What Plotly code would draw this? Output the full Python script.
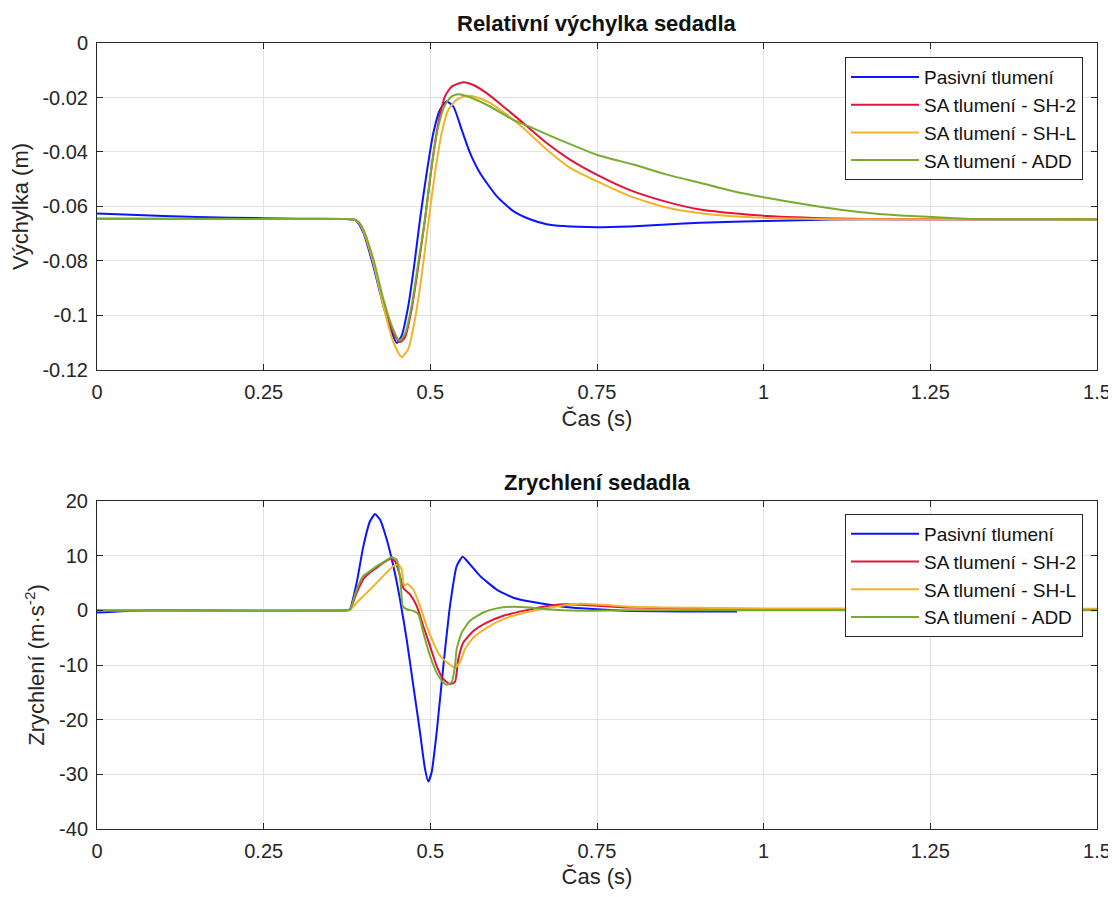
import plotly.graph_objects as go

# ---------------- data: top plot (Relativní výchylka sedadla) ----------------
t_pas_d = [0, 0.1, 0.2, 0.3, 0.37, 0.385, 0.39, 0.3995, 0.4145, 0.4295, 0.442, 0.4495, 0.457, 0.467,
           0.477, 0.4845, 0.4945, 0.5045, 0.5145, 0.5245, 0.5345, 0.547, 0.5595, 0.5745, 0.5995,
           0.6245, 0.6495, 0.6745, 0.6995, 0.7495, 0.7995, 0.8545, 0.9045, 1.0045, 1.1, 1.2, 1.5]
y_pas_d = [-0.0626, -0.0635, -0.0641, -0.0645, -0.0646, -0.0648, -0.0655, -0.0696, -0.0818, -0.0964,
           -0.1062, -0.1101, -0.1074, -0.0964, -0.0793, -0.0647, -0.0477, -0.0330, -0.0245, -0.0215,
           -0.0233, -0.0318, -0.0403, -0.0477, -0.0562, -0.0617, -0.0647, -0.0665, -0.0672, -0.0676,
           -0.0673, -0.0666, -0.0660, -0.0653, -0.0648, -0.0647, -0.0647]

t_sh2_d = [0, 0.37, 0.385, 0.392, 0.3995, 0.4145, 0.4295, 0.4445, 0.4545, 0.462, 0.472, 0.482, 0.492,
           0.502, 0.512, 0.522, 0.532, 0.5495, 0.5645, 0.5845, 0.6095, 0.6395, 0.6745, 0.7095, 0.7495,
           0.7995, 0.8545, 0.9045, 0.9545, 1.0045, 1.1045, 1.2045, 1.5]
y_sh2_d = [-0.0645, -0.0646, -0.0648, -0.0658, -0.069, -0.0806, -0.0952, -0.1062, -0.1098, -0.108,
           -0.0976, -0.0818, -0.0647, -0.0452, -0.0294, -0.0196, -0.0160, -0.0144, -0.0154, -0.0184,
           -0.0233, -0.0294, -0.0367, -0.0428, -0.0483, -0.0540, -0.0583, -0.0611, -0.0625, -0.0635,
           -0.0644, -0.0647, -0.0647]

t_shl_d = [0, 0.37, 0.385, 0.392, 0.3995, 0.4145, 0.4295, 0.4445, 0.457, 0.467, 0.477, 0.487, 0.497,
           0.507, 0.517, 0.527, 0.5395, 0.5545, 0.5695, 0.5895, 0.6145, 0.6395, 0.6745, 0.7095, 0.7495,
           0.7995, 0.8545, 0.9045, 0.9545, 1.0045, 1.1045, 1.5]
y_shl_d = [-0.0645, -0.0646, -0.0648, -0.0658, -0.069, -0.0806, -0.0964, -0.1098, -0.1153, -0.1122,
           -0.1013, -0.0854, -0.0659, -0.0477, -0.0330, -0.0245, -0.0208, -0.0194, -0.0199, -0.0220,
           -0.0263, -0.0312, -0.0391, -0.0458, -0.0507, -0.0562, -0.0604, -0.0625, -0.0636, -0.0642,
           -0.0647, -0.0647]

t_add_d = [0, 0.37, 0.385, 0.392, 0.3995, 0.4145, 0.4295, 0.442, 0.4535, 0.462, 0.472, 0.482, 0.492,
           0.502, 0.512, 0.522, 0.532, 0.542, 0.5595, 0.5895, 0.6245, 0.6495, 0.6995, 0.7495, 0.8045,
           0.8545, 0.9045, 0.9545, 1.0045, 1.0545, 1.1045, 1.1545, 1.2045, 1.2545, 1.3045, 1.3545, 1.5]
y_add_d = [-0.0645, -0.0646, -0.0648, -0.0656, -0.0684, -0.0793, -0.0940, -0.1037, -0.1092, -0.1068,
           -0.0964, -0.0806, -0.0647, -0.0452, -0.0306, -0.0227, -0.0196, -0.0188, -0.0199, -0.0233,
           -0.0282, -0.0308, -0.0361, -0.0410, -0.0446, -0.0483, -0.0513, -0.0544, -0.0568, -0.0589,
           -0.0608, -0.0623, -0.0633, -0.0639, -0.0645, -0.0647, -0.0648]

# ---------------- data: bottom plot (Zrychlení sedadla) ----------------
t_pas_a = [0, 0.03, 0.08, 0.375, 0.3795, 0.3895, 0.3995, 0.4095, 0.417, 0.4245, 0.4345, 0.4445, 0.4545,
           0.4645, 0.4745, 0.4845, 0.492, 0.497, 0.502, 0.5095, 0.5195, 0.5295, 0.5395, 0.5485, 0.5595,
           0.5745, 0.5995, 0.6245, 0.6495, 0.6995, 0.7495, 0.7995, 0.88, 0.96]
y_pas_a = [-0.4, -0.2, 0.0, 0.0, 0.2, 5.05, 11.7, 16.3, 17.6, 16.6, 13.0, 8.1, 2.0, -5.3, -13.8, -22.3,
           -29.0, -31.3, -29.6, -22.3, -10.2, 0.8, 8.1, 9.8, 8.4, 6.3, 3.8, 2.3, 1.6, 0.67, 0.2, -0.1,
           -0.2, -0.2]

t_sh2_a = [0, 0.375, 0.3795, 0.3895, 0.3995, 0.4095, 0.4195, 0.4295, 0.4395, 0.447, 0.4545, 0.4595,
           0.4695, 0.4795, 0.4895, 0.4995, 0.5095, 0.5195, 0.5295, 0.537, 0.542, 0.5495, 0.5645, 0.5845,
           0.6095, 0.6395, 0.6695, 0.6995, 0.7245, 0.7745, 0.7995, 0.9, 1.0, 1.25, 1.5]
y_sh2_a = [0, 0, 0.1, 3.2, 5.7, 6.9, 7.8, 8.7, 9.4, 9.0, 6.3, 4.1, 2.9, 0.8, -2.9, -6.5, -10.2, -12.6,
           -13.5, -13.1, -8.9, -5.9, -3.8, -2.25, -1.0, -0.1, 0.67, 1.1, 1.0, 0.67, 0.5, 0.35, 0.25,
           0.15, 0.1]

t_shl_a = [0, 0.375, 0.3795, 0.3895, 0.3995, 0.4145, 0.4295, 0.4445, 0.452, 0.457, 0.4605, 0.466,
           0.4745, 0.4845, 0.4945, 0.5045, 0.5145, 0.5245, 0.537, 0.5445, 0.552, 0.5645, 0.5845,
           0.6095, 0.6395, 0.6695, 0.6995, 0.7245, 0.7745, 0.7995, 0.9, 1.0, 1.25, 1.5]
y_shl_a = [0, 0, 0.1, 1.4, 2.6, 4.4, 6.3, 8.1, 8.4, 7.5, 4.6, 4.8, 3.8, 0.8, -2.9, -5.9, -8.3, -9.5,
           -10.5, -9.5, -7.1, -5.0, -3.2, -1.6, -0.5, 0.3, 0.9, 1.2, 0.9, 0.67, 0.45, 0.35, 0.3, 0.3]

t_add_a = [0, 0.375, 0.3795, 0.3895, 0.3995, 0.4095, 0.4195, 0.4295, 0.442, 0.4495, 0.4555, 0.4585,
           0.4645, 0.4745, 0.482, 0.4895, 0.4995, 0.5095, 0.5195, 0.5245, 0.532, 0.537, 0.5395, 0.547,
           0.5595, 0.5795, 0.5995, 0.6245, 0.6495, 0.6745, 0.7245, 0.8, 1.5]
y_add_a = [0, 0, 0.1, 3.8, 6.3, 7.2, 8.1, 8.8, 9.7, 9.3, 5.0, 0.8, 0.2, -0.1, -0.7, -4.1, -8.3, -11.4,
           -13.2, -13.6, -13.2, -10.2, -7.1, -4.1, -1.9, -0.4, 0.36, 0.67, 0.5, 0.2, -0.06, 0.0, 0.0]

series_names = ["Pasivní tlumení", "SA tlumení - SH-2", "SA tlumení - SH-L", "SA tlumení - ADD"]
series_colors = ["#0a14ff", "#e3143c", "#f0b42a", "#77ac30"]

x_ticks = [0, 0.25, 0.5, 0.75, 1, 1.25, 1.5]
x_ticktext = ["0", "0.25", "0.5", "0.75", "1", "1.25", "1.5"]
y1_ticks = [0, -0.02, -0.04, -0.06, -0.08, -0.1, -0.12]
y1_ticktext = ["0", "-0.02", "-0.04", "-0.06", "-0.08", "-0.1", "-0.12"]
y2_ticks = [20, 10, 0, -10, -20, -30, -40]
y2_ticktext = ["20", "10", "0", "-10", "-20", "-30", "-40"]

FONT = "Liberation Sans, Arial, Helvetica, sans-serif"
AX = "#262626"
GRID = "#e2e2e2"

fig = go.Figure()

top = [(t_pas_d, y_pas_d), (t_sh2_d, y_sh2_d), (t_shl_d, y_shl_d), (t_add_d, y_add_d)]
bot = [(t_pas_a, y_pas_a), (t_sh2_a, y_sh2_a), (t_shl_a, y_shl_a), (t_add_a, y_add_a)]

for (tx, ty), name, col in zip(top, series_names, series_colors):
    fig.add_trace(go.Scatter(x=tx, y=ty, mode="lines", name=name,
                             line=dict(color=col, width=2, shape="spline", smoothing=0.6),
                             xaxis="x", yaxis="y", legend="legend"))
for (tx, ty), name, col in zip(bot, series_names, series_colors):
    fig.add_trace(go.Scatter(x=tx, y=ty, mode="lines", name=name,
                             line=dict(color=col, width=2, shape="spline", smoothing=0.5),
                             xaxis="x2", yaxis="y2", legend="legend2"))

common_x = dict(range=[0, 1.5], tickvals=x_ticks, ticktext=x_ticktext, showgrid=True, gridcolor=GRID,
                gridwidth=1, showline=True, linecolor=AX, linewidth=1, mirror="ticks", ticks="inside",
                ticklen=6, tickcolor=AX, tickfont=dict(family=FONT, size=20, color=AX),
                zeroline=False, automargin=False, ticklabelstandoff=4, ticklabeloverflow="allow",
                title=dict(text="Čas (s)", font=dict(family=FONT, size=22, color=AX), standoff=8))
common_y = dict(showgrid=True, gridcolor=GRID, gridwidth=1, showline=True, linecolor=AX, linewidth=1,
                mirror="ticks", ticks="inside", ticklen=6, tickcolor=AX, automargin=False,
                tickfont=dict(family=FONT, size=20, color=AX), zeroline=False, ticklabelstandoff=4,
                ticklabeloverflow="allow")

# page body has an 8px default margin; figure sized so plot areas land where the reference has them
fig.update_layout(
    width=1108, height=881,
    margin=dict(l=89, r=19, t=35, b=60, autoexpand=False),
    paper_bgcolor="white", plot_bgcolor="white",
    font=dict(family=FONT, color=AX),
    xaxis=dict(domain=[0, 1], anchor="y", **common_x),
    yaxis=dict(domain=[0.584, 1], anchor="x", range=[-0.12, 0], tickvals=y1_ticks, ticktext=y1_ticktext,
               title=dict(text="Výchylka (m)", font=dict(family=FONT, size=22, color=AX), standoff=8),
               **common_y),
    xaxis2=dict(domain=[0, 1], anchor="y2", **common_x),
    yaxis2=dict(domain=[0, 0.4173], anchor="x2", range=[-40, 20], tickvals=y2_ticks, ticktext=y2_ticktext,
                title=dict(text="Zrychlení (m·s<sup>-2</sup>)", font=dict(family=FONT, size=22, color=AX),
                           standoff=8),
                **common_y),
    legend=dict(x=0.986, y=0.982, xanchor="right", yanchor="top", bgcolor="white", bordercolor=AX,
                borderwidth=1, font=dict(family=FONT, size=19, color="#111111"), tracegroupgap=0,
                itemwidth=68),
    legend2=dict(x=0.986, y=0.4008, xanchor="right", yanchor="top", bgcolor="white", bordercolor=AX,
                 borderwidth=1, font=dict(family=FONT, size=19, color="#111111"), tracegroupgap=0,
                 itemwidth=68),
    annotations=[
        dict(text="<b>Relativní výchylka sedadla</b>", x=0.5, xref="paper", y=1.0, yref="paper",
             xanchor="center", yanchor="bottom", yshift=5, showarrow=False,
             font=dict(family=FONT, size=22, color="#111111")),
        dict(text="<b>Zrychlení sedadla</b>", x=0.5, xref="paper", y=0.4173, yref="paper",
             xanchor="center", yanchor="bottom", yshift=4, showarrow=False,
             font=dict(family=FONT, size=22, color="#111111")),
    ],
)

# let the svg draw text that sits just past its right edge (the "1.5" tick label)
post = ("document.querySelectorAll('svg.main-svg').forEach(function(s){s.style.overflow='visible';});"
        "document.body.style.overflow='hidden';")
fig.write_html("out.html", post_script=post)
